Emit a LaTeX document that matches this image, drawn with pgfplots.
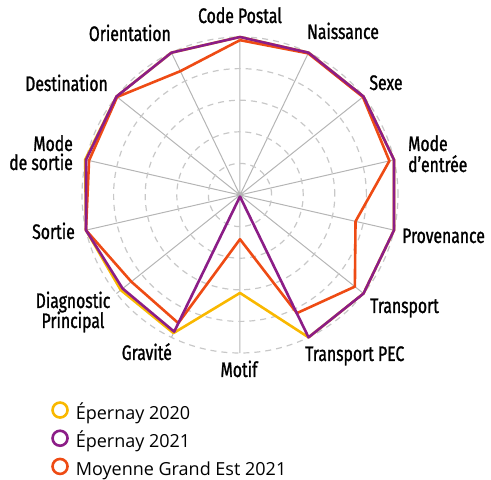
\documentclass[border=0pt]{standalone}
\usepackage{pgfplots}
\pgfplotsset{compat=1.18}
\usepgfplotslibrary{polar}
\usepackage{fontspec}
\newfontfamily\labfont[FakeStretch=0.75, FakeBold=1.2]{Fira Sans}
\newfontfamily\legfont{Open Sans}
\definecolor{cyel}{HTML}{F9B800}
\definecolor{cpur}{HTML}{8C1D87}
\definecolor{cora}{HTML}{EE4B14}
\definecolor{cspoke}{HTML}{B5B5B5}
\definecolor{cring}{HTML}{C8C8C8}
\newcommand\lf{\labfont\fontsize{21pt}{21pt}\selectfont}
\begin{document}
\begin{tikzpicture}
\useasboundingbox (0,0) rectangle (491pt,480pt);
\begin{polaraxis}[
  at={(240pt,285pt)}, anchor=center,
  width=316pt, height=316pt, scale only axis,
  xmin=0, xmax=360, ymin=0, ymax=100,
  clip=false,
  xtick={12.8571,38.5714,64.2857,90,115.7143,141.4286,167.1429,192.8571,218.5714,244.2857,270,295.7143,321.4286,347.1429},
  xticklabels={}, ytick={20,40,60,80,100}, yticklabels={},
  major tick length=0pt,
  xmajorgrids, ymajorgrids,
  x grid style={cspoke, line width=1pt},
  y grid style={cring, line width=1.2pt, dash pattern=on 6pt off 5pt},
  axis line style={draw=none},
  legend style={at={(axis description cs:-0.098,-0.152)}, anchor=north west,
    draw=none, fill=none, inner sep=0pt, row sep=3.9pt, column sep=5pt,
    font=\legfont\fontsize{18pt}{18pt}\selectfont,
    nodes={inner sep=2pt, text height=13pt, text depth=4pt}},
  legend cell align=left,
  legend image code/.code={\draw[#1, line width=2.6pt, fill=none] (8.8pt,5pt) circle (7.5pt);},
]
\addlegendimage{cyel}\addlegendentry{Épernay 2020}
\addlegendimage{cpur}\addlegendentry{Épernay 2021}
\addlegendimage{cora}\addlegendentry{Moyenne Grand Est 2021}
% Epernay 2020
\addplot[cyel, line width=2.6pt, line join=round, forget plot] coordinates {
 (90,100) (64.2857,100) (38.5714,100) (12.8571,100) (347.1429,100) (321.4286,100)
 (295.7143,100) (270,62) (244.2857,97) (218.5714,96.5) (192.8571,100) (167.1429,100.5)
 (141.4286,100) (115.7143,100) (90,100)};
% Moyenne Grand Est 2021
\addplot[cora, line width=2.6pt, line join=round, forget plot] coordinates {
 (90,98) (64.2857,99.5) (38.5714,99.5) (12.8571,97) (347.1429,75) (321.4286,93)
 (295.7143,83) (270,28) (244.2857,90) (218.5714,88) (192.8571,100) (167.1429,98)
 (141.4286,99.5) (115.7143,87) (90,98)};
% Epernay 2021
\addplot[cpur, line width=2.6pt, line join=round, forget plot] coordinates {
 (90,100) (64.2857,100) (38.5714,100) (12.8571,100) (347.1429,100) (321.4286,100)
 (295.7143,100) (270,1) (244.2857,96) (218.5714,95) (192.8571,100) (167.1429,100)
 (141.4286,100) (115.7143,100) (90,100)};
\end{polaraxis}
\begin{scope}[every node/.style={inner sep=0pt, font=\lf, text=black}]
\node[anchor=base] at (240pt,457pt) {Code Postal};
\node[anchor=base] at (343pt,441pt) {Naissance};
\node[anchor=base] at (386pt,390pt) {Sexe};
\node[anchor=base west] at (408pt,329pt) {Mode};
\node[anchor=base west] at (408pt,308pt) {d’entrée};
\node[anchor=base west] at (402pt,237pt) {Provenance};
\node[anchor=base west] at (370pt,167pt) {Transport};
\node[anchor=base west] at (305pt,119pt) {Transport PEC};
\node[anchor=base] at (239pt,103pt) {Motif};
\node[anchor=base east] at (172pt,120pt) {Gravité};
\node[anchor=base] at (73pt,172pt) {Diagnostic};
\node[anchor=base] at (73pt,152pt) {Principal};
\node[anchor=base east] at (75pt,241pt) {Sortie};
\node[anchor=base east] at (73pt,329pt) {Mode};
\node[anchor=base east] at (73pt,310pt) {de sortie};
\node[anchor=base east] at (108pt,389pt) {Destination};
\node[anchor=base east] at (171pt,439pt) {Orientation};
\end{scope}
\end{tikzpicture}
\end{document}
